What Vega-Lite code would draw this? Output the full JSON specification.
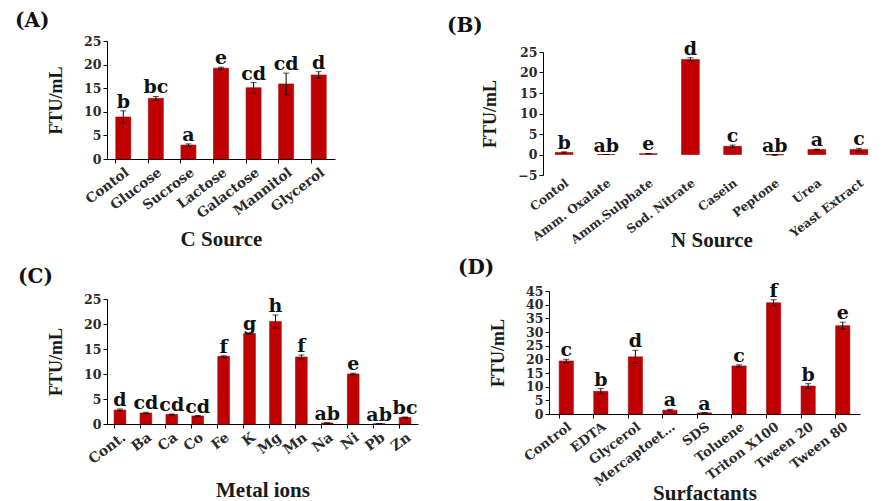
{
  "$schema": "https://vega.github.io/schema/vega-lite/v6.json",
  "padding": {"left": 15, "top": 11, "right": 0, "bottom": 0},
  "background": "white",
  "config": {
    "view": {"stroke": null},
    "axis": {"grid": false, "domainColor": "#000", "tickColor": "#000", "tickSize": 4, "labelOverlap": false, "labelFont": "DejaVu Serif", "labelFontWeight": "bold", "labelFontSize": 12.5, "labelColor": "#2a2a2a", "titleFont": "Liberation Serif", "titleFontWeight": "bold", "titleColor": "#1a1a1a"},
    "axisY": {"titleFontSize": 18, "titlePadding": 18},
    "axisX": {"labelAngle": -37, "titleFontSize": 21},
    "title": {"font": "DejaVu Serif", "fontSize": 20, "fontWeight": "bold", "anchor": "start", "frame": "group", "color": "#111"},
    "concat": {"spacing": 6}
  },
  "vconcat": [
    {
      "hconcat": [
        {
          "title": {"text": "(A)", "dx": -92, "offset": 4},
          "width": 228, "height": 118,
          "data": {"values": [
            {"c": "Contol", "v": 8.9, "lo": 7.6, "hi": 10.2, "g": "b"},
            {"c": "Glucose", "v": 12.85, "lo": 12.45, "hi": 13.25, "g": "bc"},
            {"c": "Sucrose", "v": 2.95, "lo": 2.7, "hi": 3.2, "g": "a"},
            {"c": "Lactose", "v": 19.25, "lo": 19.05, "hi": 19.45, "g": "e"},
            {"c": "Galactose", "v": 15.1, "lo": 14.0, "hi": 16.2, "g": "cd"},
            {"c": "Mannitol", "v": 15.9, "lo": 13.6, "hi": 18.2, "g": "cd"},
            {"c": "Glycerol", "v": 17.8, "lo": 17.1, "hi": 18.5, "g": "d"}
          ]},
          "encoding": {"x": {"field": "c", "type": "nominal", "sort": null, "scale": {"paddingInner": 0.54, "paddingOuter": 0.27}, "axis": {"title": "C Source", "labelFontSize": 13.5, "bandPosition": 0, "titlePadding": 8}}},
          "layer": [
            {"mark": {"type": "bar", "color": "#C00000", "stroke": "#9a0000", "strokeWidth": 0.6}, "encoding": {"y": {"field": "v", "type": "quantitative", "title": "FTU/mL", "scale": {"domain": [0, 25], "nice": false}, "axis": {"values": [0, 5, 10, 15, 20, 25], "labelOverlap": false}}}},
            {"mark": {"type": "errorbar", "ticks": true, "size": 6, "thickness": 1, "color": "black"}, "encoding": {"y": {"field": "lo", "type": "quantitative", "title": "FTU/mL", "axis": {"values": [0, 5, 10, 15, 20, 25], "labelOverlap": false}}, "y2": {"field": "hi"}}},
            {"mark": {"type": "text", "font": "DejaVu Serif", "fontWeight": "bold", "fontSize": 19, "dy": -3, "baseline": "alphabetic", "color": "#111"}, "encoding": {"y": {"field": "hi", "type": "quantitative", "title": "FTU/mL", "axis": {"values": [0, 5, 10, 15, 20, 25], "labelOverlap": false}}, "text": {"field": "g"}}}
          ]
        },
        {
          "title": {"text": "(B)", "dx": -96, "offset": 4},
          "width": 337, "height": 134,
          "data": {"values": [
            {"c": "Contol", "v": 0.5, "lo": 0.35, "hi": 0.65, "g": "b"},
            {"c": "Amm. Oxalate", "v": 0, "lo": 0, "hi": 0, "g": "ab"},
            {"c": "Amm.Sulphate", "v": 0.2, "lo": 0.15, "hi": 0.25, "g": "e"},
            {"c": "Sod. Nitrate", "v": 23.2, "lo": 22.8, "hi": 23.6, "g": "d"},
            {"c": "Casein", "v": 2.0, "lo": 1.7, "hi": 2.3, "g": "c"},
            {"c": "Peptone", "v": -0.1, "lo": -0.2, "hi": 0, "g": "ab"},
            {"c": "Urea", "v": 1.2, "lo": 1.1, "hi": 1.3, "g": "a"},
            {"c": "Yeast Extract", "v": 1.2, "lo": 0.9, "hi": 1.5, "g": "c"}
          ]},
          "encoding": {"x": {"field": "c", "type": "nominal", "sort": null, "scale": {"paddingInner": 0.58, "paddingOuter": 0.29}, "axis": {"title": "N Source", "labelFontSize": 12, "domain": false, "ticks": false, "titlePadding": -16}}},
          "layer": [
            {"mark": {"type": "rule", "color": "black", "strokeWidth": 1}, "encoding": {"y": {"datum": 0, "type": "quantitative", "title": "FTU/mL", "axis": {"values": [-5, 0, 5, 10, 15, 20, 25], "labelOverlap": false}}}},
            {"mark": {"type": "bar", "color": "#C00000", "stroke": "#9a0000", "strokeWidth": 0.6},
             "encoding": {
               "y": {"field": "v", "type": "quantitative", "title": "FTU/mL", "scale": {"domain": [-5, 25], "nice": false, "range": [134, 11]}, "axis": {"values": [-5, 0, 5, 10, 15, 20, 25], "labelOverlap": false}}}},
            {"mark": {"type": "errorbar", "ticks": true, "size": 6, "thickness": 1, "color": "black"},
             "encoding": {
               "y": {"field": "lo", "type": "quantitative", "title": "FTU/mL", "axis": {"values": [-5, 0, 5, 10, 15, 20, 25], "labelOverlap": false}}, "y2": {"field": "hi"}}},
            {"mark": {"type": "text", "font": "DejaVu Serif", "fontWeight": "bold", "fontSize": 19, "dy": -3, "baseline": "alphabetic", "color": "#111"},
             "encoding": {
               "y": {"field": "hi", "type": "quantitative", "title": "FTU/mL", "axis": {"values": [-5, 0, 5, 10, 15, 20, 25], "labelOverlap": false}}, "text": {"field": "g"}}}
          ]
        }
      ],
      "spacing": 112
    },
    {
      "hconcat": [
        {
          "title": {"text": "(C)", "dx": -89, "offset": 4},
          "width": 311, "height": 133,
          "data": {"values": [
            {"c": "Cont.", "v": 2.8, "lo": 2.6, "hi": 3.0, "g": "d"},
            {"c": "Ba", "v": 2.2, "lo": 2.05, "hi": 2.35, "g": "cd"},
            {"c": "Ca", "v": 1.9, "lo": 1.8, "hi": 2.0, "g": "cd"},
            {"c": "Co", "v": 1.6, "lo": 1.5, "hi": 1.7, "g": "cd"},
            {"c": "Fe", "v": 13.5, "lo": 13.35, "hi": 13.65, "g": "f"},
            {"c": "K", "v": 18.1, "lo": 17.95, "hi": 18.25, "g": "g"},
            {"c": "Mg", "v": 20.5, "lo": 19.2, "hi": 21.8, "g": "h"},
            {"c": "Mn", "v": 13.4, "lo": 13.0, "hi": 13.8, "g": "f"},
            {"c": "Na", "v": 0.2, "lo": 0.15, "hi": 0.25, "g": "ab"},
            {"c": "Ni", "v": 10.0, "lo": 9.85, "hi": 10.15, "g": "e"},
            {"c": "Pb", "v": 0.05, "lo": 0.05, "hi": 0.05, "g": "ab"},
            {"c": "Zn", "v": 1.3, "lo": 1.2, "hi": 1.4, "g": "bc"}
          ]},
          "encoding": {"x": {"field": "c", "type": "nominal", "sort": null, "scale": {"paddingInner": 0.55, "paddingOuter": 0.275}, "axis": {"title": "Metal ions", "labelFontSize": 14, "bandPosition": 0, "titlePadding": 13}}},
          "layer": [
            {"mark": {"type": "bar", "color": "#C00000", "stroke": "#9a0000", "strokeWidth": 0.6}, "encoding": {"y": {"field": "v", "type": "quantitative", "title": "FTU/mL", "scale": {"domain": [0, 25], "nice": false, "range": [133, 8]}, "axis": {"values": [0, 5, 10, 15, 20, 25], "labelOverlap": false}}}},
            {"mark": {"type": "errorbar", "ticks": true, "size": 6, "thickness": 1, "color": "black"}, "encoding": {"y": {"field": "lo", "type": "quantitative", "title": "FTU/mL", "axis": {"values": [0, 5, 10, 15, 20, 25], "labelOverlap": false}}, "y2": {"field": "hi"}}},
            {"mark": {"type": "text", "font": "DejaVu Serif", "fontWeight": "bold", "fontSize": 19, "dy": -3, "baseline": "alphabetic", "color": "#111"}, "encoding": {"y": {"field": "hi", "type": "quantitative", "title": "FTU/mL", "axis": {"values": [0, 5, 10, 15, 20, 25], "labelOverlap": false}}, "text": {"field": "g"}}}
          ]
        },
        {
          "title": {"text": "(D)", "dx": -91, "offset": 4},
          "width": 311, "height": 123,
          "data": {"values": [
            {"c": "Control", "v": 19.4, "lo": 18.8, "hi": 20.0, "g": "c"},
            {"c": "EDTA", "v": 8.3, "lo": 7.3, "hi": 9.3, "g": "b"},
            {"c": "Glycerol", "v": 20.9, "lo": 18.5, "hi": 23.3, "g": "d"},
            {"c": "Mercaptoet…", "v": 1.4, "lo": 1.1, "hi": 1.7, "g": "a"},
            {"c": "SDS", "v": 0.4, "lo": 0.3, "hi": 0.5, "g": "a"},
            {"c": "Toluene", "v": 17.6, "lo": 17.2, "hi": 18.0, "g": "c"},
            {"c": "Triton X100", "v": 40.7, "lo": 39.6, "hi": 41.8, "g": "f"},
            {"c": "Tween 20", "v": 10.2, "lo": 9.3, "hi": 11.1, "g": "b"},
            {"c": "Tween 80", "v": 32.3, "lo": 31.0, "hi": 33.6, "g": "e"}
          ]},
          "encoding": {"x": {"field": "c", "type": "nominal", "sort": null, "scale": {"paddingInner": 0.59, "paddingOuter": 0.295}, "axis": {"title": "Surfactants", "labelFontSize": 13, "bandPosition": 0, "titlePadding": -6}}},
          "layer": [
            {"mark": {"type": "bar", "color": "#C00000", "stroke": "#9a0000", "strokeWidth": 0.6}, "encoding": {"y": {"field": "v", "type": "quantitative", "title": "FTU/mL", "scale": {"domain": [0, 45], "nice": false}, "axis": {"values": [0, 5, 10, 15, 20, 25, 30, 35, 40, 45], "labelOverlap": false}}}},
            {"mark": {"type": "errorbar", "ticks": true, "size": 6, "thickness": 1, "color": "black"}, "encoding": {"y": {"field": "lo", "type": "quantitative", "title": "FTU/mL", "axis": {"values": [0, 5, 10, 15, 20, 25, 30, 35, 40, 45], "labelOverlap": false}}, "y2": {"field": "hi"}}},
            {"mark": {"type": "text", "font": "DejaVu Serif", "fontWeight": "bold", "fontSize": 19, "dy": -3, "baseline": "alphabetic", "color": "#111"}, "encoding": {"y": {"field": "hi", "type": "quantitative", "title": "FTU/mL", "axis": {"values": [0, 5, 10, 15, 20, 25, 30, 35, 40, 45], "labelOverlap": false}}, "text": {"field": "g"}}}
          ]
        }
      ],
      "spacing": 40
    }
  ]
}
